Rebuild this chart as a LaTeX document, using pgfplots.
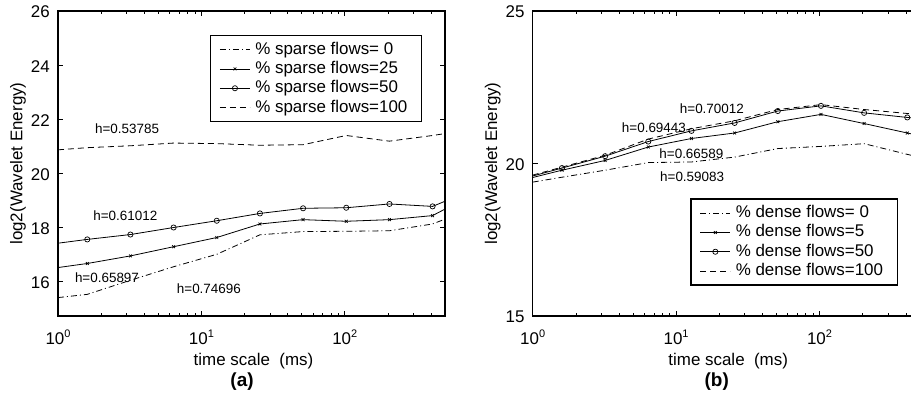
\documentclass[border=0pt]{standalone}
\usepackage{fontspec}
\setmainfont{Liberation Sans}
\usepackage{pgfplots}
\pgfplotsset{compat=1.18}

\newcommand{\tenpow}[1]{10\raisebox{7bp}{\fontsize{11}{11}\selectfont #1}}
\pgfplotsset{
  s0/.style={black, line width=0.8bp, dash pattern=on 6bp off 3bp on 1bp off 3bp},
  s1/.style={black, line width=0.8bp, solid, mark=x, mark size=2bp, mark indices={2,3,4,5,6,7,8,9,10}, mark options={solid, line width=0.7bp}},
  s2/.style={black, line width=0.8bp, solid, mark=o, mark size=2.6bp, mark indices={2,3,4,5,6,7,8,9,10}, mark options={solid, line width=0.7bp}},
  s3/.style={black, line width=0.8bp, dash pattern=on 6bp off 4bp},
}

\begin{document}
\begin{tikzpicture}
\begin{axis}[
    xmode=log, log basis x=10,
    scale only axis, width=387bp, height=305bp,
    xmin=1, xmax=500, clip mode=individual,
    xtick={1,10,100},
    xticklabels={\tenpow{0},\tenpow{1},\tenpow{2}},
    minor xtick={2,3,4,5,6,7,8,9,20,30,40,50,60,70,80,90,200,300,400},
    tick align=inside,
    major tick length=5bp, minor tick length=3bp,
    axis line style={line width=1.4bp},
    every tick/.style={black, line width=0.6bp},
    /pgf/number format/assume math mode=true,
    tick label style={font=\fontsize{17}{20}\selectfont},
    xticklabel style={anchor=base, yshift=-28bp, inner sep=0pt},
    yticklabel style={anchor=east, inner sep=0pt, xshift=-8bp, yshift=-1bp},
    label style={font=\fontsize{17}{20}\selectfont},
    ylabel style={at={(axis description cs:-0.1034,0.5)}, anchor=center},
    xlabel style={at={(axis description cs:0.5,-0.1607)}, anchor=base, xshift=2bp},
    xlabel={time scale\ \ (ms)},
    ylabel={log2(Wavelet Energy)},
    legend cell align=left,
    legend image code/.code={\draw[#1, mark indices={2}] plot coordinates {(0bp,0bp) (15bp,0bp) (30bp,0bp)};},
    legend style={font=\fontsize{17}{20}\selectfont, draw=black, line width=1.2bp,
      inner xsep=9bp, inner ysep=4.4bp,
      nodes={inner xsep=5bp, inner ysep=1.65bp, text height=12.5bp, text depth=3.5bp}},
  at={(58bp,80bp)}, anchor=south west,
  ymin=14.73, ymax=26, ytick={16,18,20,22,24,26},
  legend style={at={(1,1)}, anchor=north east, xshift=-23bp, yshift=-24bp},
]
\addplot[s0] coordinates {(1,15.41) (1.6,15.53) (3.2,16.05) (6.4,16.55) (12.8,17.01) (25.6,17.73) (51.2,17.85) (102.4,17.86) (204.8,17.88) (409.6,18.13) (500,18.31)};
\addplot[s1] coordinates {(1,16.52) (1.6,16.67) (3.2,16.95) (6.4,17.29) (12.8,17.63) (25.6,18.13) (51.2,18.29) (102.4,18.23) (204.8,18.29) (409.6,18.44) (500,18.68)};
\addplot[s2] coordinates {(1,17.42) (1.6,17.56) (3.2,17.74) (6.4,18.00) (12.8,18.25) (25.6,18.52) (51.2,18.71) (102.4,18.73) (204.8,18.87) (409.6,18.78) (500,18.97)};
\addplot[s3] coordinates {(1,20.87) (1.6,20.95) (3.2,21.02) (6.4,21.12) (12.8,21.10) (25.6,21.04) (51.2,21.06) (102.4,21.40) (204.8,21.19) (409.6,21.40) (500,21.47)};
\legend{\% sparse flows= 0,\% sparse flows=25,\% sparse flows=50,\% sparse flows=100}
\node[anchor=west, inner sep=0pt, font=\fontsize{13.5}{16}\selectfont] at (axis cs:1.81,21.66) {h=0.53785};
\node[anchor=west, inner sep=0pt, font=\fontsize{13.5}{16}\selectfont] at (axis cs:1.76,18.44) {h=0.61012};
\node[anchor=west, inner sep=0pt, font=\fontsize{13.5}{16}\selectfont] at (axis cs:1.31,16.13) {h=0.65897};
\node[anchor=west, inner sep=0pt, font=\fontsize{13.5}{16}\selectfont] at (axis cs:6.73,15.74) {h=0.74696};
\node[anchor=base, font=\bfseries\fontsize{19}{22}\selectfont] at (axis description cs:0.4755,-0.231) {(a)};
\end{axis}

\begin{axis}[
    xmode=log, log basis x=10,
    scale only axis, width=387bp, height=305bp,
    xmin=1, xmax=500, clip mode=individual,
    xtick={1,10,100},
    xticklabels={\tenpow{0},\tenpow{1},\tenpow{2}},
    minor xtick={2,3,4,5,6,7,8,9,20,30,40,50,60,70,80,90,200,300,400},
    tick align=inside,
    major tick length=5bp, minor tick length=3bp,
    axis line style={line width=1.4bp},
    every tick/.style={black, line width=0.6bp},
    /pgf/number format/assume math mode=true,
    tick label style={font=\fontsize{17}{20}\selectfont},
    xticklabel style={anchor=base, yshift=-28bp, inner sep=0pt},
    yticklabel style={anchor=east, inner sep=0pt, xshift=-8bp, yshift=-1bp},
    label style={font=\fontsize{17}{20}\selectfont},
    ylabel style={at={(axis description cs:-0.1034,0.5)}, anchor=center},
    xlabel style={at={(axis description cs:0.5,-0.1607)}, anchor=base, xshift=2bp},
    xlabel={time scale\ \ (ms)},
    ylabel={log2(Wavelet Energy)},
    legend cell align=left,
    legend image code/.code={\draw[#1, mark indices={2}] plot coordinates {(0bp,0bp) (15bp,0bp) (30bp,0bp)};},
    legend style={font=\fontsize{17}{20}\selectfont, draw=black, line width=1.2bp,
      inner xsep=9bp, inner ysep=4.4bp,
      nodes={inner xsep=5bp, inner ysep=1.65bp, text height=12.5bp, text depth=3.5bp}},
  at={(532.7bp,80bp)}, anchor=south west,
  ymin=15, ymax=25, ytick={15,20,25},
  legend style={at={(1,0)}, anchor=south east, xshift=-22bp, yshift=30.3bp},
]
\addplot[s0] coordinates {(1,19.39) (1.6,19.55) (3.2,19.78) (6.4,20.03) (12.8,20.05) (25.6,20.21) (51.2,20.49) (102.4,20.56) (204.8,20.65) (409.6,20.30) (500,20.20)};
\addplot[s1] coordinates {(1,19.54) (1.6,19.78) (3.2,20.10) (6.4,20.54) (12.8,20.82) (25.6,21.00) (51.2,21.37) (102.4,21.61) (204.8,21.31) (409.6,21.00) (500,20.91)};
\addplot[s2] coordinates {(1,19.59) (1.6,19.85) (3.2,20.24) (6.4,20.72) (12.8,21.07) (25.6,21.33) (51.2,21.72) (102.4,21.89) (204.8,21.66) (409.6,21.51) (500,21.47)};
\addplot[s3] coordinates {(1,19.62) (1.6,19.88) (3.2,20.27) (6.4,20.80) (12.8,21.14) (25.6,21.40) (51.2,21.77) (102.4,21.93) (204.8,21.77) (409.6,21.64) (500,21.60)};
\legend{\% dense flows= 0,\% dense flows=5,\% dense flows=50,\% dense flows=100}
\node[anchor=west, inner sep=0pt, font=\fontsize{13.5}{16}\selectfont] at (axis cs:10.6,21.81) {h=0.70012};
\node[anchor=west, inner sep=0pt, font=\fontsize{13.5}{16}\selectfont] at (axis cs:4.18,21.17) {h=0.69443};
\node[anchor=west, inner sep=0pt, font=\fontsize{13.5}{16}\selectfont] at (axis cs:7.63,20.33) {h=0.66589};
\node[anchor=west, inner sep=0pt, font=\fontsize{13.5}{16}\selectfont] at (axis cs:7.72,19.57) {h=0.59083};
\node[anchor=base, font=\bfseries\fontsize{19}{22}\selectfont] at (axis description cs:0.4755,-0.231) {(b)};
\end{axis}
\pgfresetboundingbox
\path[use as bounding box] (0,0) rectangle (911bp,396bp);
\end{tikzpicture}
\end{document}
